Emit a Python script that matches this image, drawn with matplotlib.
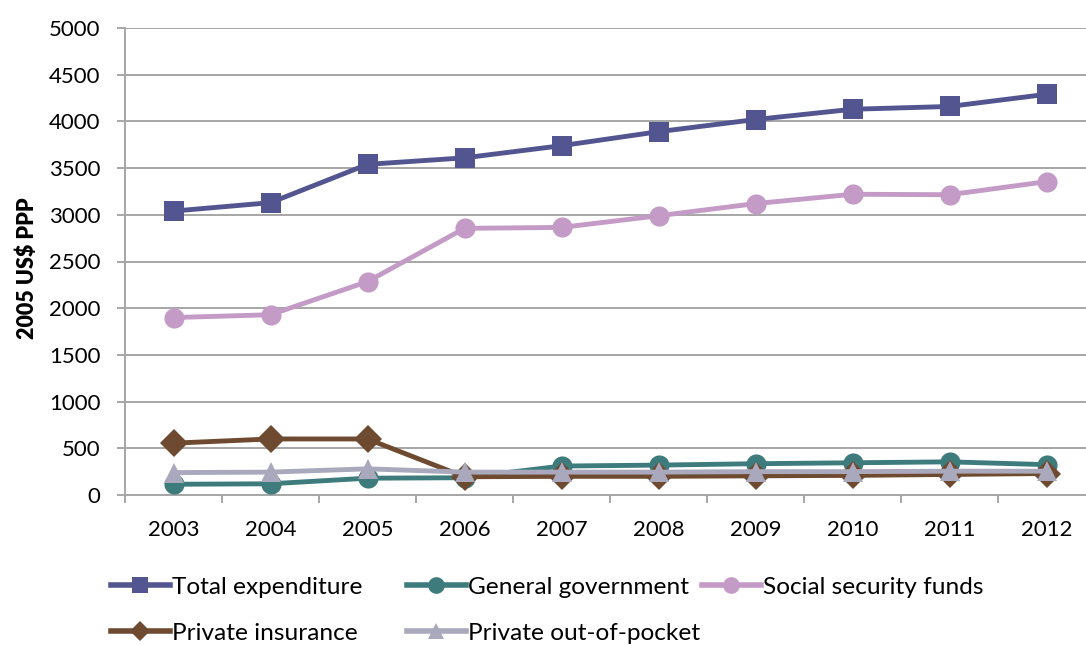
import matplotlib
matplotlib.use("Agg")
import matplotlib.pyplot as plt
from matplotlib.lines import Line2D
from matplotlib.ticker import MultipleLocator, FixedLocator

plt.rcParams['font.family'] = ['Lato', 'DejaVu Sans']

years = ['2003', '2004', '2005', '2006', '2007', '2008', '2009', '2010', '2011', '2012']
total_expenditure = [3040, 3130, 3540, 3610, 3740, 3890, 4020, 4130, 4160, 4290]
general_government = [115, 120, 180, 185, 310, 320, 335, 345, 355, 325]
social_security_funds = [1900, 1930, 2285, 2855, 2865, 2990, 3120, 3220, 3215, 3355]
private_insurance = [555, 600, 600, 195, 200, 200, 205, 210, 220, 230]
private_out_of_pocket = [240, 245, 280, 245, 245, 245, 250, 250, 255, 255]

series = [
    ('Total expenditure', total_expenditure, '#535590', 's'),
    ('General government', general_government, '#3E7B7D', 'o'),
    ('Social security funds', social_security_funds, '#C39BC6', 'o'),
    ('Private insurance', private_insurance, '#6E4A30', 'D'),
    ('Private out-of-pocket', private_out_of_pocket, '#A9A8BC', '^'),
]

W, H = 1086, 646
fig = plt.figure(figsize=(W / 100, H / 100), dpi=100)
ax = fig.add_axes([125 / W, 1 - 495 / H, 970 / W, 467 / H])

x = list(range(len(years)))
for name, vals, color, marker in series:
    ms = 14.5 if marker != 'D' else 14
    ax.plot(x, vals, color=color, lw=3.5, marker=marker, markersize=ms,
            markeredgewidth=0, solid_joinstyle='round', zorder=3)

ax.set_xlim(-0.5, len(years) - 0.5)
ax.set_ylim(0, 5000)
ax.yaxis.set_major_locator(MultipleLocator(500))
ax.grid(axis='y', color='#A6A6A6', lw=1.4, zorder=0)
ax.set_axisbelow(True)

ax.set_xticks(x)
ax.set_xticklabels(years)
ax.xaxis.set_minor_locator(FixedLocator([i - 0.5 for i in range(len(years) + 1)]))
ax.tick_params(axis='x', which='major', length=0, pad=18, labelsize=16, labelcolor='#000000')
ax.tick_params(axis='x', which='minor', length=5.5, width=1.4, color='#A6A6A6', direction='out')
ax.tick_params(axis='y', which='major', length=5.5, width=1.4, color='#A6A6A6', direction='out',
               pad=12, labelsize=16, labelcolor='#000000')

for side in ('top', 'right'):
    ax.spines[side].set_visible(False)
for side in ('left', 'bottom'):
    ax.spines[side].set_color('#A6A6A6')
    ax.spines[side].set_linewidth(1.4)

fig.text(27 / W, 1 - 268 / H, '2005 US$ PPP', rotation=90, ha='center', va='center',
         fontsize=15.5, fontweight='heavy')

# legend entries laid out in two rows
legend_pos = [(111, 587), (407, 587), (702, 587), (111, 633), (407, 633)]
for (name, vals, color, marker), (lx, ly) in zip(series, legend_pos):
    handle = Line2D([], [], color=color, lw=4, marker=marker,
                    markersize=12 if marker != 'D' else 10.5, markeredgewidth=0)
    fig.legend(handles=[handle], labels=[name], loc='center left',
               bbox_to_anchor=(lx / W, 1 - ly / H), frameon=False,
               borderpad=0, borderaxespad=0, handlelength=2.4, handletextpad=0.1,
               fontsize=17.6)

fig.savefig('out.png', dpi=100)
